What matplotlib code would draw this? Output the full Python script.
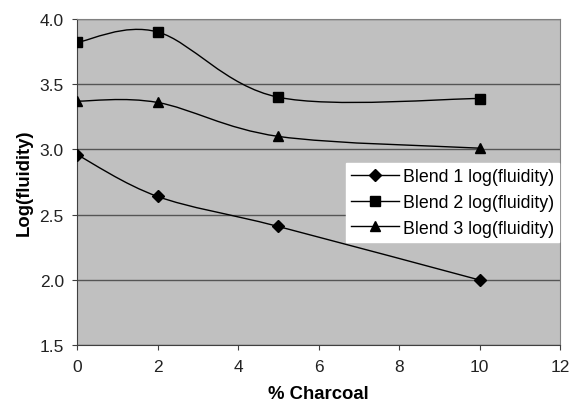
"""
Log(fluidity) vs % charcoal for three coal blends, Excel-style smoothed lines.
"""

import numpy as np
import matplotlib
matplotlib.use("Agg")
import matplotlib.pyplot as plt
from matplotlib.path import Path
from matplotlib.patches import PathPatch
from matplotlib.lines import Line2D

plt.rcParams['font.family'] = ['Liberation Sans', 'DejaVu Sans']

# Data
charcoal = [0, 2, 5, 10]
blend1 = [2.96, 2.64, 2.41, 2.00]
blend2 = [3.82, 3.90, 3.40, 3.39]
blend3 = [3.37, 3.36, 3.10, 3.01]
labels = ['Blend 1 log(fluidity)', 'Blend 2 log(fluidity)', 'Blend 3 log(fluidity)']
markers = ['D', 's', '^']
msizes = [6, 6.5, 7.5]


def smooth_path(xs, ys):
    """Catmull-Rom style Bezier path through the points (like Excel's smoothed line)."""
    pts = np.column_stack([xs, ys]).astype(float)
    ext = np.vstack([pts[0], pts, pts[-1]])
    verts = [pts[0]]
    codes = [Path.MOVETO]
    for i in range(1, len(ext) - 2):
        p0, p1, p2, p3 = ext[i - 1], ext[i], ext[i + 1], ext[i + 2]
        c1 = p1 + (p2 - p0) / 6.0
        c2 = p2 - (p3 - p1) / 6.0
        verts += [c1, c2, p2]
        codes += [Path.CURVE4] * 3
    return Path(verts, codes)


fig = plt.figure(figsize=(5.71, 4.06), dpi=100)
ax = fig.add_axes([0.135, 0.147, 0.846, 0.804])
ax.set_facecolor('#c0c0c0')

handles = []
for ys, lab, mk, ms in zip([blend1, blend2, blend3], labels, markers, msizes):
    ax.add_patch(PathPatch(smooth_path(charcoal, ys), facecolor='none',
                           edgecolor='black', linewidth=1.0, zorder=3))
    ax.plot(charcoal, ys, linestyle='none', marker=mk, markersize=ms,
            color='black', zorder=4)
    handles.append(Line2D([], [], color='black', linewidth=1.0, marker=mk,
                          markersize=ms, label=lab))

ax.set_xlim(0, 12)
ax.set_ylim(1.5, 4.0)
ax.set_xticks(range(0, 13, 2))
ax.set_yticks(np.arange(1.5, 4.01, 0.5))
ax.yaxis.set_major_formatter(matplotlib.ticker.FormatStrFormatter('%.1f'))
ax.grid(axis='y', color='#555555', linewidth=1.0)
ax.set_axisbelow(True)

for side in ['top', 'right']:
    ax.spines[side].set_color('#808080')
for side in ['left', 'bottom']:
    ax.spines[side].set_color('#404040')

ax.tick_params(axis='both', direction='out', length=3.6, color='#404040',
               labelsize=12.5, colors='#222222', pad=6)

ax.set_xlabel('% Charcoal', fontsize=13.3, fontweight='bold', labelpad=8)
ax.set_ylabel('Log(fluidity)', fontsize=13.3, fontweight='bold', labelpad=5)

leg = ax.legend(handles=handles, loc='upper left', bbox_to_anchor=(0.557, 0.56),
                frameon=True, fancybox=False, fontsize=12.8, handlelength=2.7,
                borderpad=0.3, labelspacing=0.5, handletextpad=0.2,
                borderaxespad=0)
leg.get_frame().set_edgecolor('white')
leg.get_frame().set_facecolor('white')
leg.get_frame().set_alpha(1)

plt.savefig('out.png', dpi=100)
plt.close()
